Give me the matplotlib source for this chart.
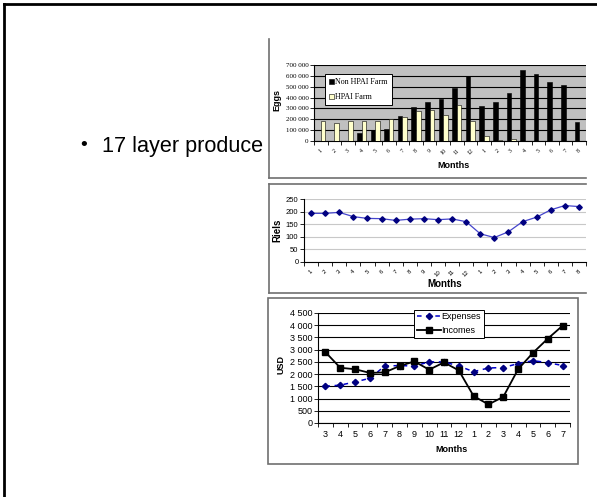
import matplotlib
matplotlib.use("Agg")
import matplotlib.pyplot as plt
from matplotlib.lines import Line2D
from matplotlib.patches import Rectangle
import numpy as np

# ---------------- data ----------------
egg_months = ["1", "2", "3", "4", "5", "6", "7", "8", "9", "10", "11", "12",
              "1", "2", "3", "4", "5", "6", "7", "8"]
non_hpai = [0, 0, 0, 70000, 100000, 115000, 230000, 310000, 355000, 385000,
            490000, 595000, 325000, 355000, 445000, 650000, 615000, 545000, 515000, 175000]
hpai = [180000, 165000, 185000, 180000, 180000, 200000, 225000, 275000, 290000, 235000,
        335000, 180000, 50000, 5000, 20000, 0, 0, 0, 0, 0]

price_months = egg_months
riels = [193, 193, 197, 180, 173, 172, 165, 170, 172, 168, 171, 160,
         112, 97, 120, 160, 178, 207, 224, 220]

usd_months = ["3", "4", "5", "6", "7", "8", "9", "10", "11", "12", "1", "2", "3", "4", "5", "6", "7"]
expenses = [1500, 1550, 1680, 1830, 2330, 2350, 2330, 2500, 2500, 2330, 2100, 2250,
            2270, 2430, 2550, 2470, 2350]
incomes = [2900, 2260, 2200, 2050, 2070, 2330, 2520, 2180, 2480, 2150, 1100, 760,
           1070, 2200, 2870, 3450, 3980]

W, H = 597, 497
fig = plt.figure(figsize=(W / 100, H / 100), dpi=100)
fig.patch.set_facecolor("white")


def rect(l, t, r, b):
    return [l / W, 1 - b / H, (r - l) / W, (b - t) / H]


def fx(x):
    return x / W


def fy(y):
    return 1 - y / H


def fline(xs, ys, color="#707070", lw=1.2):
    fig.add_artist(Line2D([fx(x) for x in xs], [fy(y) for y in ys],
                          transform=fig.transFigure, color=color, lw=lw))


def space_fmt(v, pos=None):
    return f"{int(v):,}".replace(",", " ")


# slide border
fline([4, 4], [4, 497], color="black", lw=2)
fline([4, 597], [4, 4], color="black", lw=2)

# bullet text
fig.text(fx(80), fy(145), "•", fontsize=14, family="Liberation Sans",
         va="center", ha="left")
fig.text(fx(102), fy(152), "17 layer produce", fontsize=15.6, family="Liberation Sans",
         va="baseline", ha="left")

# chart frames
fline([269, 269], [39, 178])
fline([269, 586], [178, 178])
fline([269, 586], [184, 184])
fline([269, 269], [184, 293])
fline([269, 586], [293, 293])
fig.add_artist(Rectangle((fx(268), fy(464)), fx(578) - fx(268), fy(298) - fy(464),
                         transform=fig.transFigure, fill=False, edgecolor="#707070", lw=1.2))

# ---------------- chart 1: eggs ----------------
ax1 = fig.add_axes(rect(314, 65, 586, 141))
n1 = len(egg_months)
x1 = np.arange(n1)
bw = 0.34
ax1.set_facecolor("#c0c0c0")
ax1.bar(x1 - bw / 2, non_hpai, bw, color="black", edgecolor="black", lw=0.4,
        label="Non HPAI Farm", zorder=3)
ax1.bar(x1 + bw / 2, hpai, bw, color="#ffffcc", edgecolor="black", lw=0.4,
        label="HPAI Farm", zorder=3)
ax1.set_xlim(-0.5, n1 - 0.5)
ax1.set_ylim(0, 700000)
ax1.set_yticks(np.arange(0, 700001, 100000))
ax1.yaxis.set_major_formatter(plt.FuncFormatter(space_fmt))
ax1.grid(axis="y", color="black", lw=0.8, zorder=1)
ax1.set_xticks(np.arange(-0.5, n1, 1))
ax1.set_xticklabels([])
ax1.set_xticks(x1, minor=True)
ax1.set_xticklabels(egg_months, minor=True, rotation=45, fontsize=4.3, family="Liberation Serif")
ax1.tick_params(axis="x", which="minor", length=0, pad=5)
ax1.tick_params(axis="x", which="major", length=3, width=0.6)
ax1.tick_params(axis="y", length=3, width=0.6, labelsize=5, pad=1)
for lab in ax1.get_yticklabels():
    lab.set_family("Liberation Serif")
for s in ["top", "right"]:
    ax1.spines[s].set_visible(False)
for s in ["left", "bottom"]:
    ax1.spines[s].set_linewidth(0.8)
leg1 = ax1.legend(loc="upper left", bbox_to_anchor=(0.04, 0.88), prop={"family": "Liberation Serif", "size": 5.8},
                  frameon=True, fancybox=False, edgecolor="black", framealpha=1,
                  handlelength=0.6, handleheight=0.6, handletextpad=0.2, borderpad=0.5,
                  labelspacing=0.9, borderaxespad=0)
leg1.get_frame().set_linewidth(0.7)
fig.text(fx(277), fy(100), "Eggs", rotation=90, fontsize=6.5, fontweight="bold",
         family="Liberation Sans", ha="center", va="center")
fig.text(fx(453), fy(166), "Months", fontsize=6.5, fontweight="bold",
         family="Liberation Sans", ha="center", va="center")

# ---------------- chart 2: price ----------------
ax2 = fig.add_axes(rect(304, 199, 586, 262))
n2 = len(price_months)
x2 = np.arange(n2)
ax2.plot(x2, riels, color="#4444cc", lw=0.9, marker="D", markersize=2.8,
         markerfacecolor="#000080", markeredgecolor="#000080", zorder=3)
ax2.set_xlim(-0.5, n2 - 0.5)
ax2.set_ylim(0, 250)
ax2.set_yticks(np.arange(0, 251, 50))
ax2.grid(axis="y", color="#c8c8c8", lw=0.8, zorder=1)
ax2.set_xticks(np.arange(-0.5, n2, 1))
ax2.set_xticklabels([])
ax2.set_xticks(x2, minor=True)
ax2.set_xticklabels(price_months, minor=True, rotation=45, fontsize=4.3, family="Liberation Sans")
ax2.tick_params(axis="x", which="minor", length=0, pad=5)
ax2.tick_params(axis="x", which="major", length=3, width=0.6)
ax2.tick_params(axis="y", length=3, width=0.6, labelsize=5.5, pad=1)
for lab in ax2.get_yticklabels():
    lab.set_family("Liberation Sans")
for s in ["top", "right"]:
    ax2.spines[s].set_visible(False)
for s in ["left", "bottom"]:
    ax2.spines[s].set_linewidth(0.8)
fig.text(fx(277), fy(230), "Riels", rotation=90, fontsize=7, fontweight="bold",
         family="Liberation Sans", ha="center", va="center")
fig.text(fx(445), fy(284), "Months", fontsize=7, fontweight="bold",
         family="Liberation Sans", ha="center", va="center")

# ---------------- chart 3: USD ----------------
ax3 = fig.add_axes(rect(318, 313, 570, 423))
n3 = len(usd_months)
x3 = np.arange(n3)
ax3.plot(x3, expenses, color="#0000cc", lw=1.1, ls=(0, (3, 3)), marker="D", markersize=3.2,
         markerfacecolor="#000080", markeredgecolor="#000080", label="Expenses", zorder=3)
ax3.plot(x3, incomes, color="black", lw=1.3, marker="s", markersize=4.5,
         markerfacecolor="black", markeredgecolor="black", label="Incomes", zorder=4)
ax3.set_xlim(-0.5, n3 - 0.5)
ax3.set_ylim(0, 4500)
ax3.set_yticks(np.arange(0, 4501, 500))
ax3.yaxis.set_major_formatter(plt.FuncFormatter(space_fmt))
ax3.grid(axis="y", color="black", lw=0.8, zorder=1)
ax3.set_xticks(np.arange(-0.5, n3, 1))
ax3.set_xticklabels([])
ax3.set_xticks(x3, minor=True)
ax3.set_xticklabels(usd_months, minor=True, fontsize=6.5, family="Liberation Sans")
ax3.tick_params(axis="x", which="minor", length=0, pad=5)
ax3.tick_params(axis="x", which="major", length=3, width=0.6)
ax3.tick_params(axis="y", length=3, width=0.6, labelsize=6.5, pad=1)
for lab in ax3.get_yticklabels():
    lab.set_family("Liberation Sans")
for s in ["top", "right"]:
    ax3.spines[s].set_visible(False)
for s in ["left", "bottom"]:
    ax3.spines[s].set_linewidth(0.8)
leg3 = ax3.legend(loc="upper center", bbox_to_anchor=(0.52, 1.03),
                  prop={"family": "Liberation Sans", "size": 6.5},
                  frameon=True, fancybox=False, edgecolor="black", framealpha=1,
                  handlelength=2.6, handletextpad=0.1, borderpad=0.3, labelspacing=0.5,
                  borderaxespad=0)
leg3.get_frame().set_linewidth(0.7)
fig.text(fx(281), fy(364), "USD", rotation=90, fontsize=6.5, fontweight="bold",
         family="Liberation Sans", ha="center", va="center")
fig.text(fx(451), fy(449), "Months", fontsize=6.5, fontweight="bold",
         family="Liberation Sans", ha="center", va="center")

fig.savefig("out.png", dpi=100)
